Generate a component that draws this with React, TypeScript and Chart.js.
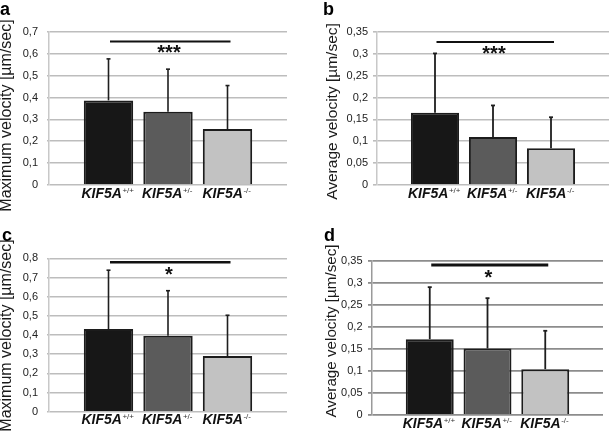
import React, { useEffect, useRef } from 'react';
import { Chart, registerables } from 'chart.js';

Chart.register(...registerables);

// ---------- data ----------
const gene = 'KIF5A';
const genotypes = ['+/+', '+/-', '-/-'];
const categories = ['', ...genotypes.map((g) => gene + g), ''];
const barColors = ['#171717', '#5b5b5b', '#c2c2c2'];

const meanA = [0.387, 0.335, 0.256];
const sdA = [0.19, 0.195, 0.199];
const ticksA = [0, 0.1, 0.2, 0.3, 0.4, 0.5, 0.6, 0.7];
const sigA = 0.656;
const starsA = '***';

const meanB = [0.165, 0.11, 0.084];
const sdB = [0.136, 0.072, 0.071];
const ticksB = [0, 0.05, 0.1, 0.15, 0.2, 0.25, 0.3, 0.35];
const sigB = 0.327;
const starsB = '***';

const meanC = [0.431, 0.396, 0.29];
const sdC = [0.307, 0.235, 0.213];
const ticksC = [0, 0.1, 0.2, 0.3, 0.4, 0.5, 0.6, 0.7, 0.8];
const sigC = 0.779;
const starsC = '*';

const meanD = [0.172, 0.151, 0.104];
const sdD = [0.118, 0.114, 0.087];
const ticksD = [0, 0.05, 0.1, 0.15, 0.2, 0.25, 0.3, 0.35];
const sigD = 0.34;
const starsD = '*';

const titleMax = 'Maximum velocity [\u00b5m/sec]';
const titleAvg = 'Average velocity [\u00b5m/sec]';

const FONT = 'Arial, "Liberation Sans", sans-serif';

// ---------- panel layout / styling ----------
type Panel = {
  letter: string;
  title: string;
  mean: number[];
  sd: number[];
  ticks: number[];
  sig: number;
  stars: string;
  left: number; top: number; w: number; h: number;
  axisW: number; padTop: number; padRight: number; padBottom: number;
  tickLen: number; tickPad: number;
  gridColor: string; gridWidth: number; axisColor: string;
  titleX: number; titleY: number; titleSize: number;
  letterX: number; letterY: number;
  sigWidth: number; errWidth: number; starDy: number;
};

const panels: Panel[] = [
  {
    letter: 'a', title: titleMax, mean: meanA, sd: sdA, ticks: ticksA, sig: sigA, stars: starsA,
    left: 0, top: 0, w: 300, h: 215,
    axisW: 49, padTop: 32, padRight: 13, padBottom: 30,
    tickLen: 2, tickPad: 9,
    gridColor: '#bdbdbd', gridWidth: 1.6, axisColor: '#c8c8c8',
    titleX: 11, titleY: 115.5, titleSize: 16,
    letterX: 0, letterY: 15,
    sigWidth: 2, errWidth: 1.6, starDy: 17.8,
  },
  {
    letter: 'b', title: titleAvg, mean: meanB, sd: sdB, ticks: ticksB, sig: sigB, stars: starsB,
    left: 300, top: 0, w: 309, h: 215,
    axisW: 77, padTop: 32, padRight: 0, padBottom: 30,
    tickLen: 4, tickPad: 5,
    gridColor: '#bdbdbd', gridWidth: 1.6, axisColor: '#c8c8c8',
    titleX: 37, titleY: 111.5, titleSize: 15.5,
    letterX: 23, letterY: 15,
    sigWidth: 2, errWidth: 1.8, starDy: 17.8,
  },
  {
    letter: 'c', title: titleMax, mean: meanC, sd: sdC, ticks: ticksC, sig: sigC, stars: starsC,
    left: 0, top: 215, w: 300, h: 218,
    axisW: 49, padTop: 43.3, padRight: 13, padBottom: 21.3,
    tickLen: 2, tickPad: 9,
    gridColor: '#bdbdbd', gridWidth: 1.6, axisColor: '#c8c8c8',
    titleX: 11, titleY: 120.5, titleSize: 16,
    letterX: 2, letterY: 26,
    sigWidth: 2.5, errWidth: 1.6, starDy: 18.7,
  },
  {
    letter: 'd', title: titleAvg, mean: meanD, sd: sdD, ticks: ticksD, sig: sigD, stars: starsD,
    left: 300, top: 215, w: 309, h: 218,
    axisW: 72, padTop: 45.7, padRight: 6, padBottom: 18,
    tickLen: 4, tickPad: 5.5,
    gridColor: '#8c8c8c', gridWidth: 1.8, axisColor: '#9a9a9a',
    titleX: 36, titleY: 116, titleSize: 15.2,
    letterX: 24, letterY: 26,
    sigWidth: 3, errWidth: 1.8, starDy: 18.6,
  },
];

function fmt(v: number) {
  return String(Math.round(v * 100) / 100).replace('.', ',');
}

function makeExtras(p: Panel) {
  return {
    id: 'extras',
    afterDraw(chart: any) {
      const ctx: CanvasRenderingContext2D = chart.ctx;
      const xs = chart.scales.x;
      const ys = chart.scales.y;
      const area = chart.chartArea;
      ctx.save();

      // error bars (upper)
      ctx.strokeStyle = '#1e1e1e';
      ctx.lineWidth = p.errWidth;
      p.mean.forEach((m, i) => {
        const cx = xs.getPixelForValue(i + 1);
        const y0 = ys.getPixelForValue(m);
        const y1 = ys.getPixelForValue(m + p.sd[i]);
        ctx.beginPath();
        ctx.moveTo(cx, y0);
        ctx.lineTo(cx, y1);
        ctx.stroke();
        ctx.beginPath();
        ctx.moveTo(cx - 2, y1);
        ctx.lineTo(cx + 2, y1);
        ctx.stroke();
      });

      // significance line + stars
      const sy = ys.getPixelForValue(p.sig);
      const sx1 = xs.getPixelForValue(1) + 1.5;
      const sx2 = xs.getPixelForValue(3) + 3;
      ctx.strokeStyle = '#111';
      ctx.lineWidth = p.sigWidth;
      ctx.beginPath();
      ctx.moveTo(sx1, sy);
      ctx.lineTo(sx2, sy);
      ctx.stroke();
      ctx.fillStyle = '#111';
      ctx.font = `bold 20px ${FONT}`;
      ctx.textAlign = 'center';
      ctx.textBaseline = 'alphabetic';
      ctx.fillText(p.stars, xs.getPixelForValue(2) + 1, sy + p.starDy);

      // x labels with superscript genotype
      const by = area.bottom + 12.5;
      genotypes.forEach((g, i) => {
        const cx = xs.getPixelForValue(i + 1);
        ctx.font = `italic bold 14px ${FONT}`;
        const wMain = ctx.measureText(gene).width;
        ctx.font = `8px ${FONT}`;
        const wSup = ctx.measureText(g).width;
        const start = cx - (wMain + wSup) / 2 - 1;
        ctx.textAlign = 'left';
        ctx.fillStyle = '#111';
        ctx.font = `italic bold 14px ${FONT}`;
        ctx.fillText(gene, start, by);
        ctx.fillStyle = '#333';
        ctx.font = `8px ${FONT}`;
        ctx.fillText(g, start + wMain + 0.5, by - 5);
      });

      // y title
      ctx.save();
      ctx.translate(p.titleX, p.titleY);
      ctx.rotate(-Math.PI / 2);
      ctx.font = `${p.titleSize}px ${FONT}`;
      ctx.fillStyle = '#1a1a1a';
      ctx.textAlign = 'center';
      ctx.textBaseline = 'alphabetic';
      ctx.fillText(p.title, 0, 0);
      ctx.restore();

      // panel letter
      ctx.font = `bold 18px ${FONT}`;
      ctx.fillStyle = '#000';
      ctx.textAlign = 'left';
      ctx.textBaseline = 'alphabetic';
      ctx.fillText(p.letter, p.letterX, p.letterY);

      ctx.restore();
    },
  };
}

function PanelChart({ p }: { p: Panel }) {
  const ref = useRef<HTMLCanvasElement | null>(null);
  useEffect(() => {
    if (!ref.current) return;
    const chart = new Chart(ref.current, {
      type: 'bar',
      data: {
        labels: categories,
        datasets: [
          {
            data: [null, ...p.mean, null] as any,
            backgroundColor: ['transparent', ...barColors, 'transparent'],
            borderColor: '#1c1c1c',
            borderWidth: 2,
            categoryPercentage: 0.83,
            barPercentage: 1,
          },
        ],
      },
      options: {
        animation: false,
        responsive: false,
        devicePixelRatio: 1,
        layout: { padding: { top: p.padTop, right: p.padRight, bottom: p.padBottom, left: 0 } },
        plugins: { legend: { display: false }, tooltip: { enabled: false } },
        scales: {
          x: {
            type: 'category',
            display: false,
            offset: false,
            grid: { display: false },
          },
          y: {
            min: 0,
            max: p.ticks[p.ticks.length - 1],
            afterBuildTicks: (scale: any) => {
              scale.ticks = p.ticks.map((v) => ({ value: v }));
            },
            afterFit: (scale: any) => {
              scale.width = p.axisW;
            },
            grid: {
              color: p.gridColor,
              lineWidth: p.gridWidth,
              drawTicks: true,
              tickLength: p.tickLen,
              tickColor: p.gridColor,
            },
            border: { display: true, color: p.axisColor, width: 1.5 },
            ticks: {
              padding: p.tickPad,
              color: '#222',
              font: { family: FONT, size: 11 },
              callback: (v: any) => fmt(Number(v)),
            },
          },
        },
      },
      plugins: [makeExtras(p)],
    } as any);
    return () => chart.destroy();
  }, [p]);
  return (
    <canvas
      ref={ref}
      width={p.w}
      height={p.h}
      style={{ position: 'absolute', left: p.left, top: p.top, width: p.w, height: p.h }}
    />
  );
}

export default function App() {
  return (
    <div
      style={{
        position: 'fixed',
        left: 0,
        top: 0,
        width: 609,
        height: 433,
        background: '#fff',
        overflow: 'hidden',
      }}
    >
      {panels.map((p) => (
        <PanelChart key={p.letter} p={p} />
      ))}
    </div>
  );
}
